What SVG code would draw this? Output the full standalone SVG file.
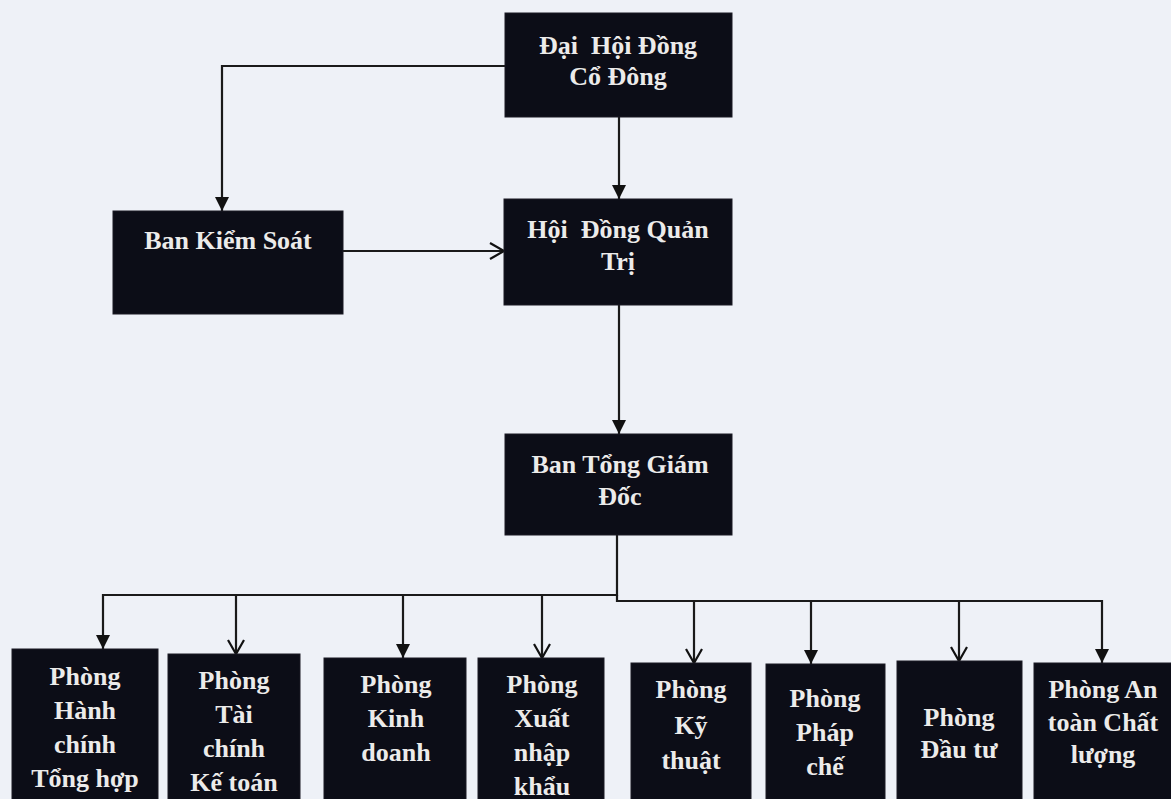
<svg xmlns="http://www.w3.org/2000/svg" width="1171" height="799" viewBox="0 0 1171 799">
<style>
.bg{fill:#eef1f7}
.box{fill:#0c0d17;stroke:#1a1b25;stroke-width:1}
.t{font-family:"Liberation Serif","Times New Roman",serif;font-weight:bold;font-size:26px;fill:#ecebea;text-anchor:middle}
.c{fill:none;stroke:#1a1a1a;stroke-width:2.2}
</style>
<defs>
<marker id="af" markerUnits="userSpaceOnUse" markerWidth="16" markerHeight="16" refX="14" refY="7" orient="auto"><path d="M0,0 L14,7 L0,14 Z" fill="#111"/></marker>
<marker id="ao" markerUnits="userSpaceOnUse" markerWidth="18" markerHeight="20" refX="15" refY="9" orient="auto"><path d="M1,1 L15,9 L1,17" fill="none" stroke="#111" stroke-width="2.2"/></marker>
</defs>
<rect class="bg" x="0" y="0" width="1171" height="799"/>
<g id="connectors">
<path class="c" d="M505,66 H222 V211" marker-end="url(#af)"/>
<path class="c" d="M619,117 V199" marker-end="url(#af)"/>
<path class="c" d="M343,251 H504" marker-end="url(#ao)"/>
<path class="c" d="M619,305 V434" marker-end="url(#af)"/>
<path class="c" d="M617,535 V595 H103 V649" marker-end="url(#af)"/>
<path class="c" d="M617,595 V601 H1102 V663" marker-end="url(#af)"/>
<path class="c" d="M236,595 V654" marker-end="url(#ao)"/>
<path class="c" d="M403,595 V658" marker-end="url(#af)"/>
<path class="c" d="M542,595 V658" marker-end="url(#ao)"/>
<path class="c" d="M694,601 V663" marker-end="url(#ao)"/>
<path class="c" d="M811,601 V664" marker-end="url(#af)"/>
<path class="c" d="M959,601 V661" marker-end="url(#ao)"/>
</g>
<g id="dhdcd">
<rect class="box" x="505" y="13" width="227" height="104"/>
<text class="t" x="618" y="54" xml:space="preserve">Đại  Hội Đồng</text>
<text class="t" x="618" y="85">Cổ Đông</text>
</g>
<g id="bks">
<rect class="box" x="113" y="211" width="230" height="103"/>
<text class="t" x="228" y="249">Ban Kiểm Soát</text>
</g>
<g id="hdqt">
<rect class="box" x="504" y="199" width="228" height="106"/>
<text class="t" x="618" y="238" xml:space="preserve">Hội  Đồng Quản</text>
<text class="t" x="618" y="270">Trị</text>
</g>
<g id="btgd">
<rect class="box" x="505" y="434" width="227" height="101"/>
<text class="t" x="620" y="473">Ban Tổng Giám</text>
<text class="t" x="620" y="505">Đốc</text>
</g>
<g id="p1">
<rect class="box" x="12" y="649" width="146" height="160"/>
<text class="t" x="85" y="685">Phòng</text>
<text class="t" x="85" y="719">Hành</text>
<text class="t" x="85" y="753">chính</text>
<text class="t" x="85" y="787">Tổng hợp</text>
</g>
<g id="p2">
<rect class="box" x="168" y="654" width="132" height="160"/>
<text class="t" x="234" y="689">Phòng</text>
<text class="t" x="234" y="723">Tài</text>
<text class="t" x="234" y="757">chính</text>
<text class="t" x="234" y="791">Kế toán</text>
</g>
<g id="p3">
<rect class="box" x="324" y="658" width="142" height="160"/>
<text class="t" x="396" y="693">Phòng</text>
<text class="t" x="396" y="727">Kinh</text>
<text class="t" x="396" y="761">doanh</text>
</g>
<g id="p4">
<rect class="box" x="478" y="658" width="126" height="160"/>
<text class="t" x="542" y="693">Phòng</text>
<text class="t" x="542" y="727">Xuất</text>
<text class="t" x="542" y="761">nhập</text>
<text class="t" x="542" y="795">khẩu</text>
</g>
<g id="p5">
<rect class="box" x="631" y="663" width="120" height="160"/>
<text class="t" x="691" y="698">Phòng</text>
<text class="t" x="691" y="734">Kỹ</text>
<text class="t" x="691" y="769">thuật</text>
</g>
<g id="p6">
<rect class="box" x="766" y="664" width="119" height="160"/>
<text class="t" x="825" y="707">Phòng</text>
<text class="t" x="825" y="741">Pháp</text>
<text class="t" x="825" y="775">chế</text>
</g>
<g id="p7">
<rect class="box" x="897" y="661" width="125" height="160"/>
<text class="t" x="959" y="726">Phòng</text>
<text class="t" x="959" y="758">Đầu tư</text>
</g>
<g id="p8">
<rect class="box" x="1034" y="663" width="140" height="160"/>
<text class="t" x="1103" y="698">Phòng An</text>
<text class="t" x="1103" y="731">toàn Chất</text>
<text class="t" x="1103" y="763">lượng</text>
</g>
</svg>
